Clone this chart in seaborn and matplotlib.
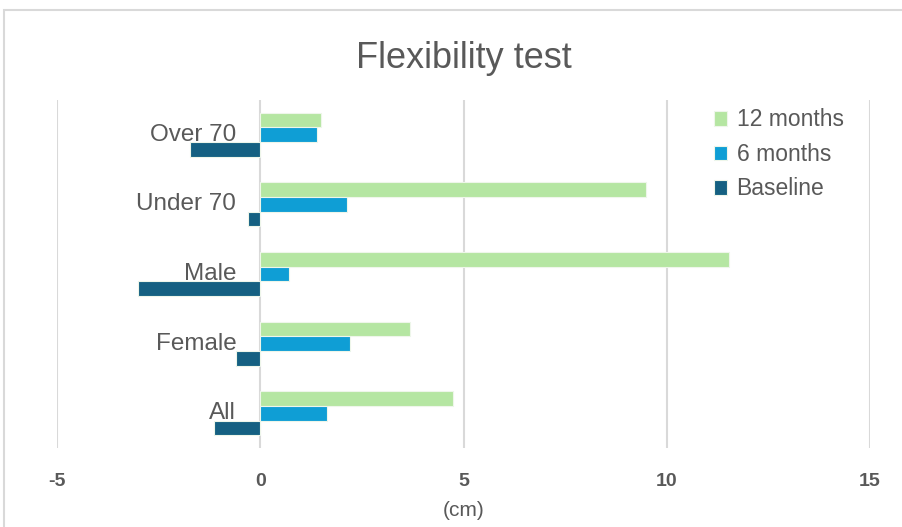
import matplotlib
matplotlib.use("Agg")
import matplotlib.pyplot as plt
import matplotlib.transforms as mtransforms
from matplotlib.patches import Rectangle
import seaborn as sns
import pandas as pd

categories = ["Over 70", "Under 70", "Male", "Female", "All"]
series = ["12 months", "6 months", "Baseline"]
months_12 = [1.5, 9.48, 11.53, 3.69, 4.75]
months_6 = [1.4, 2.14, 0.71, 2.22, 1.65]
baseline = [-1.72, -0.3, -3.0, -0.59, -1.13]
colors = ["#b5e6a2", "#0f9ed5", "#156082"]
xticks = [-5, 0, 5, 10, 15]

rows = []
for name, vals in zip(series, [months_12, months_6, baseline]):
    for cat, v in zip(categories, vals):
        rows.append({"group": cat, "series": name, "value": v})
df = pd.DataFrame(rows)

sns.set_style("white")
plt.rcParams["font.family"] = ["Liberation Sans", "DejaVu Sans"]
grey = "#595959"

fig = plt.figure(figsize=(9.02, 5.27), dpi=100)
ax = fig.add_axes([57 / 902, 1 - 448 / 527, (870 - 57) / 902, 348 / 527])

sns.barplot(
    data=df, y="group", x="value", hue="series",
    order=categories, hue_order=series, palette=colors, saturation=1,
    orient="h", width=0.63, edgecolor="#eef6ea", linewidth=0.8,
    ax=ax, zorder=3
)

ax.set_xlim(-5, 15)
ax.set_xticks(xticks)
ax.set_xticklabels([str(t) for t in xticks], fontsize=14, fontweight="bold", color=grey)
ax.tick_params(axis="x", length=0, pad=18)
ax.grid(axis="x", color="#d9d9d9", linewidth=1.5, zorder=0)
ax.grid(axis="y", visible=False)
for s in ax.spines.values():
    s.set_visible(False)

# category labels sit next to the zero line
ax.set_yticks(range(len(categories)))
ax.set_yticklabels([])
ax.tick_params(axis="y", length=0)
ax.set_ylabel("")
off = mtransforms.offset_copy(
    mtransforms.blended_transform_factory(ax.transData, ax.transData),
    fig=fig, x=-24, y=0, units="dots")
for i, cat in enumerate(categories):
    ax.text(0, i, cat, transform=off, ha="right", va="center",
            fontsize=17.5, color=grey, zorder=2)

ax.set_xlabel("(cm)", fontsize=15, color=grey, labelpad=8)
ax.set_title("Flexibility test", fontsize=26, color=grey, pad=23)

leg = ax.legend(loc="upper right", bbox_to_anchor=(1 - 15 / 813, 1 + 3 / 348),
                fontsize=16.5, frameon=True, framealpha=1,
                edgecolor="white", handlelength=0.6, handleheight=0.6,
                handletextpad=0.4, labelspacing=0.5, borderaxespad=0.0,
                borderpad=0.5)
for t in leg.get_texts():
    t.set_color(grey)
leg.set_zorder(5)

fig.patches.append(Rectangle((4 / 902, -0.1), 1.2, 1 - 10 / 527 + 0.1,
                             transform=fig.transFigure, fill=False,
                             edgecolor="#d9d9d9", linewidth=1.5))

fig.savefig("out.png", dpi=100)
